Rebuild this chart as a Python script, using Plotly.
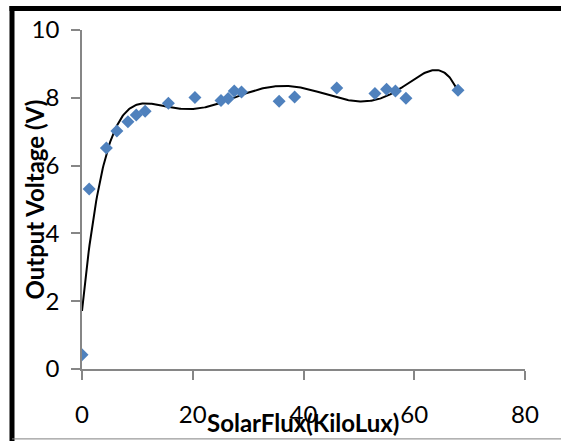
import numpy as np
import plotly.graph_objects as go

# Data
solar_flux = [0.0, 1.3, 4.4, 6.3, 8.3, 9.8, 11.4, 15.6, 20.4, 25.1, 26.4, 27.5,
              28.8, 35.6, 38.4, 46.0, 52.9, 55.0, 56.6, 58.5, 67.9]
output_voltage = [0.42, 5.31, 6.52, 7.02, 7.29, 7.49, 7.60, 7.84, 8.01, 7.92, 7.98, 8.20,
                  8.17, 7.90, 8.02, 8.29, 8.13, 8.25, 8.20, 7.99, 8.22]
x_ticks = [0, 20, 40, 60, 80]
y_ticks = [0, 2, 4, 6, 8, 10]
x_title = "SolarFlux(KiloLux)"
y_title = "Output Voltage (V)"
trend_order = 6

# Polynomial trendline (as Excel computes it) fitted to the data
coef = np.polyfit(solar_flux, output_voltage, trend_order)
tx = np.linspace(min(solar_flux), max(solar_flux), 400)
ty = np.polyval(coef, tx)

W, H = 561, 441
L, R, T, B = 82, 36, 30, 71.5
pw, ph = W - L - R, H - T - B

def px_x(p):
    return (p - L) / pw

def px_y(p):
    return (H - B - p) / ph

fig = go.Figure()
fig.add_trace(go.Scatter(x=tx, y=ty, mode="lines",
                         line=dict(color="black", width=2), hoverinfo="skip"))
fig.add_trace(go.Scatter(x=solar_flux, y=output_voltage, mode="markers",
                         marker=dict(symbol="diamond", size=10, color="#4F81BD")))

axis_common = dict(showline=True, linecolor="#868686", linewidth=1.5,
                   ticks="outside", ticklen=9, tickcolor="#868686", tickwidth=1.5,
                   showgrid=False, zeroline=False, automargin=False,
                   tickfont=dict(family="Lato", size=24, color="black"))

fig.update_layout(
    template="none",
    width=W, height=H,
    margin=dict(l=L, r=R, t=T, b=B, pad=0),
    paper_bgcolor="white", plot_bgcolor="white",
    showlegend=False,
    xaxis=dict(range=[0, 80], tickvals=x_ticks, ticklabelstandoff=14, **axis_common),
    yaxis=dict(range=[0, 10], tickvals=y_ticks, ticklabelstandoff=7, **axis_common),
    annotations=[
        dict(text=f"<b>{x_title}</b>", xref="paper", yref="paper",
             x=px_x(303), y=px_y(423), xanchor="center", yanchor="middle",
             showarrow=False, font=dict(family="Lato", size=24, color="black")),
        dict(text=f"<b>{y_title}</b>", xref="paper", yref="paper",
             x=px_x(34), y=0.5, xanchor="center", yanchor="middle", textangle=-90,
             showarrow=False, font=dict(family="Lato", size=24, color="black")),
    ],
    shapes=[
        dict(type="line", xref="paper", yref="paper", x0=px_x(12), x1=px_x(12),
             y0=px_y(6), y1=px_y(445), line=dict(color="black", width=5)),
        dict(type="line", xref="paper", yref="paper", x0=px_x(9.5), x1=px_x(565),
             y0=px_y(8.5), y1=px_y(8.5), line=dict(color="black", width=5)),
        dict(type="line", xref="paper", yref="paper", x0=px_x(12), x1=px_x(565),
             y0=px_y(439.5), y1=px_y(439.5), line=dict(color="#808080", width=1)),
    ],
)

fig.write_html("out.html", config={"displayModeBar": False},
               post_script="document.body.style.margin='0';document.body.style.overflow='hidden';")
